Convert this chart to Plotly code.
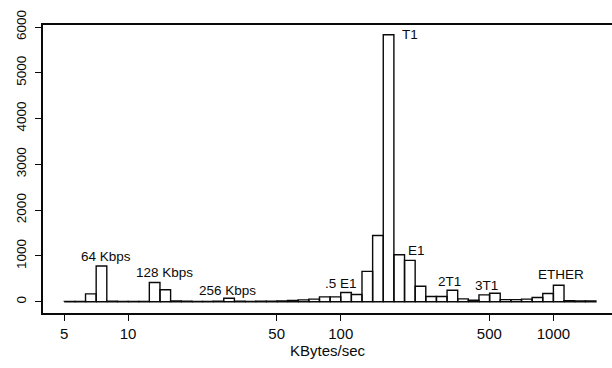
import math
import plotly.graph_objects as go

# Histogram of transfer rates, counts per bin of 0.05 in log10(KBytes/sec)
LOG_BIN_START = 0.70
LOG_BIN_WIDTH = 0.05
counts = [
    5, 8, 170, 780, 10, 8, 6, 8, 420, 262,
    15, 10, 8, 8, 12, 75, 10, 8, 10, 12,
    18, 28, 40, 55, 105, 105, 200, 157, 663, 1446,
    5830, 1026, 902, 337, 113, 113, 250, 61, 30, 148,
    185, 45, 45, 55, 90, 178, 360, 20, 15, 15,
]

x_tick_vals = [5, 10, 50, 100, 500, 1000]
y_tick_vals = [0, 1000, 2000, 3000, 4000, 5000, 6000]

# Link-speed labels (text, KBytes/sec, count)
label_text = ["64 Kbps", "128 Kbps", "256 Kbps", ".5 E1", "T1", "E1", "2T1", "3T1", "ETHER"]
label_x = [7.85, 14.9, 29.4, 100.4, 212, 228, 324, 485, 1084]
label_y = [983, 633, 234, 402, 5826, 1129, 437, 350, 605]

# Build bar outlines as closed polygons, separated by None
xs, ys = [], []
for i, c in enumerate(counts):
    lo = 10 ** (LOG_BIN_START + i * LOG_BIN_WIDTH)
    hi = 10 ** (LOG_BIN_START + (i + 1) * LOG_BIN_WIDTH)
    xs += [lo, lo, hi, hi, lo, None]
    ys += [0, c, c, 0, 0, None]

fig = go.Figure()
fig.add_trace(go.Scatter(
    x=xs, y=ys, mode="lines", fill="toself", fillcolor="white",
    line=dict(color="#0a0a0a", width=1.4), hoverinfo="skip", showlegend=False,
))

FAMILY = "Liberation Sans, Arial, sans-serif"
ink = "#0a0a0a"

for t, xv, yv in zip(label_text, label_x, label_y):
    fig.add_annotation(
        x=math.log10(xv), y=yv, text=t, showarrow=False,
        xanchor="center", yanchor="middle",
        font=dict(family=FAMILY, size=13.5, color=ink),
    )

fig.update_layout(
    width=612, height=368,
    margin=dict(l=43, r=0, t=25, b=55),
    paper_bgcolor="white", plot_bgcolor="white",
    font=dict(family=FAMILY, size=13.5, color=ink),
    showlegend=False,
)
fig.update_xaxes(
    type="log", range=[0.6, 3.2756],
    tickvals=x_tick_vals, ticktext=[str(v) for v in x_tick_vals],
    tickfont=dict(size=15),
    ticks="outside", ticklen=6, tickwidth=1.2, tickcolor=ink,
    showline=True, linecolor=ink, linewidth=1.5, mirror=True,
    showgrid=False, zeroline=False,
    ticklabelstandoff=0,
    title=dict(text="KBytes/sec", font=dict(size=15), standoff=4),
)
fig.update_yaxes(
    range=[-247, 6044],
    tickvals=y_tick_vals, ticktext=[str(v) for v in y_tick_vals],
    tickangle=-90,
    tickfont=dict(size=13.5),
    ticks="outside", ticklen=6, tickwidth=1.2, tickcolor=ink,
    showline=True, linecolor=ink, linewidth=1.5, mirror=False,
    showgrid=False, zeroline=False,
    ticklabelstandoff=4,
)

fig.write_html("out.html")
